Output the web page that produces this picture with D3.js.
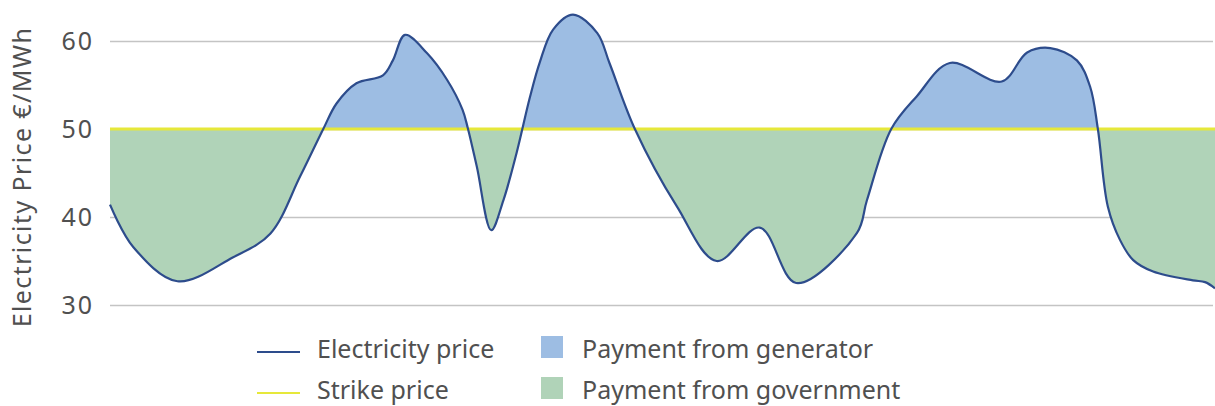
<!DOCTYPE html>
<html>
<head>
<meta charset="utf-8">
<script src="https://cdn.jsdelivr.net/npm/d3@7"></script>
<style>
  html, body { margin: 0; padding: 0; background: #fff; }
  svg { display: block; font-family: 'Noto Sans', sans-serif; }
</style>
</head>
<body>
<svg id="chart"></svg>
<script>
// time position (0..100 across the period) and electricity price €/MWh
const times = [0, 2.1, 6.1, 11.1, 14.5, 17.2, 19.3, 20.5, 22.3, 24.7, 25.6, 26.7, 28.7, 30.5, 31.9,
  32.4, 33.2, 34.5, 35.6, 36.8, 38.0, 38.9, 40.1, 41.9, 44.1, 45.2, 47.5, 51.3, 54.9, 58.8,
  62.1, 67.6, 68.5, 70.7, 73.0, 76.0, 80.7, 83.0, 85.1, 87.5, 88.7, 89.4, 90.3, 91.4, 92.6, 94.4,
  98.0, 99.1, 100];
const prices = [41.4, 36.6, 32.7, 35.4, 38.1, 44.6, 50, 52.9, 55.2, 56.1, 57.8, 60.7, 58.6, 55.6, 52.2,
  50, 45.7, 38.5, 41.9, 47.3, 53.6, 57.6, 61.3, 63.0, 60.9, 57.5, 50, 41.2, 35.0, 38.8,
  32.5, 38.2, 41.9, 50, 53.7, 57.5, 55.4, 58.7, 59.2, 57.8, 54.8, 50, 41.2, 37.4, 35.1, 33.8,
  32.8, 32.6, 31.9];
const strikePrice = 50;
const yTicks = [30, 40, 50, 60];
const yTitle = 'Electricity Price €/MWh';
const legendItems = [
  { label: 'Electricity price', type: 'line', key: 'price' },
  { label: 'Payment from generator', type: 'rect', key: 'generator' },
  { label: 'Strike price', type: 'line', key: 'strike' },
  { label: 'Payment from government', type: 'rect', key: 'government' }
];

const colors = {
  price: '#2d4c8c',
  strike: '#e6e83a',
  generator: '#9dbde3',
  government: '#b0d3b8',
  grid: '#c4c4c4',
  text: '#505050'
};

const width = 1215;
const height = 406;
const margin = { top: 41, right: 2, bottom: 101, left: 110 };

const data = times.map((t, i) => ({ t, v: prices[i] }));

const svg = d3.select('#chart')
  .attr('width', width)
  .attr('height', height);

const x = d3.scaleLinear()
  .domain([0, 100])
  .range([margin.left, width]);

const y = d3.scaleLinear()
  .domain([30, 60])
  .range([height - margin.bottom, margin.top]);

// gridlines + tick labels
const yAxis = g => g
  .attr('transform', `translate(${margin.left},0)`)
  .call(d3.axisLeft(y).tickValues(yTicks).tickSize(-(width - margin.left - margin.right)).tickPadding(16))
  .call(g => g.select('.domain').remove())
  .call(g => g.selectAll('.tick line').attr('stroke', colors.grid).attr('stroke-width', 1.5))
  .call(g => g.selectAll('.tick text')
    .attr('fill', colors.text)
    .attr('font-size', 25)
    .attr('letter-spacing', 2)
    .attr('font-family', "'Noto Sans', sans-serif"));

svg.append('g').call(yAxis);

svg.append('text')
  .attr('transform', `translate(31,177) rotate(-90)`)
  .attr('text-anchor', 'middle')
  .attr('fill', colors.text)
  .attr('font-size', 25)
  .attr('letter-spacing', 1.4)
  .text(yTitle);

// fills between the price and the strike price
const curve = d3.curveCatmullRom.alpha(0.5);
const area = d3.area()
  .x(d => x(d.t))
  .y0(y(strikePrice))
  .y1(d => y(d.v))
  .curve(curve);

const defs = svg.append('defs');
defs.append('clipPath').attr('id', 'above')
  .append('rect')
  .attr('x', 0).attr('y', 0)
  .attr('width', width).attr('height', y(strikePrice));
defs.append('clipPath').attr('id', 'below')
  .append('rect')
  .attr('x', 0).attr('y', y(strikePrice))
  .attr('width', width).attr('height', height - y(strikePrice));

svg.append('path')
  .datum(data)
  .attr('clip-path', 'url(#above)')
  .attr('fill', colors.generator)
  .attr('d', area);

svg.append('path')
  .datum(data)
  .attr('clip-path', 'url(#below)')
  .attr('fill', colors.government)
  .attr('d', area);

// strike price line
svg.append('line')
  .attr('x1', x(0)).attr('x2', x(100))
  .attr('y1', y(strikePrice)).attr('y2', y(strikePrice))
  .attr('stroke', colors.strike)
  .attr('stroke-width', 2.8);

// electricity price line
svg.append('path')
  .datum(data)
  .attr('fill', 'none')
  .attr('stroke', colors.price)
  .attr('stroke-width', 2.2)
  .attr('stroke-linejoin', 'round')
  .attr('d', d3.line().x(d => x(d.t)).y(d => y(d.v)).curve(curve));

// legend
const legend = svg.append('g')
  .attr('font-size', 25)
  .attr('fill', colors.text);

const colX = [257, 541];
const rowBase = [358, 399];

legend.selectAll('g')
  .data(legendItems)
  .join('g')
  .attr('transform', (d, i) => `translate(${colX[i % 2]},${rowBase[Math.floor(i / 2)]})`)
  .each(function (d) {
    const g = d3.select(this);
    if (d.type === 'line') {
      g.append('line')
        .attr('x1', 0).attr('x2', 43)
        .attr('y1', -6).attr('y2', -6)
        .attr('stroke', colors[d.key])
        .attr('stroke-width', d.key === 'strike' ? 1.8 : 2);
      g.append('text')
        .attr('x', 60)
        .text(d.label);
    } else {
      g.append('rect')
        .attr('x', 0).attr('y', -22)
        .attr('width', 22).attr('height', 22)
        .attr('fill', colors[d.key]);
      g.append('text')
        .attr('x', 41)
        .text(d.label);
    }
  });
</script>
</body>
</html>
